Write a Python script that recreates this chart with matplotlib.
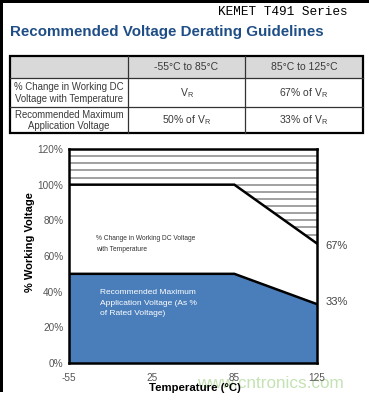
import numpy as np
import matplotlib
matplotlib.use("Agg")
import matplotlib.pyplot as plt
from matplotlib.patches import Polygon, Rectangle

# ---------------- data ----------------
series_name = "KEMET T491 Series"
title = "Recommended Voltage Derating Guidelines"

table_columns = ["", "-55°C to 85°C", "85°C to 125°C"]
table_row_labels = ["% Change in Working DC\nVoltage with Temperature",
                    "Recommended Maximum\nApplication Voltage"]
table_values = [["V$_\\mathregular{R}$", "67% of V$_\\mathregular{R}$"],
                ["50% of V$_\\mathregular{R}$", "33% of V$_\\mathregular{R}$"]]

temp_labels = ["-55", "25", "85", "125"]
working_dc = [100, 100, 100, 67]      # % change in working DC voltage
recommended = [50, 50, 50, 33]        # recommended max application voltage
y_ticks = [0, 20, 40, 60, 80, 100, 120]

# ---------------- figure ----------------
W, H = 369, 400
fig = plt.figure(figsize=(W / 100, H / 100), dpi=100)
fig.patch.set_facecolor("white")
plt.rcParams['font.family'] = ['Liberation Sans', 'DejaVu Sans']

bg = fig.add_axes([0, 0, 1, 1])
bg.set_xlim(0, W)
bg.set_ylim(H, 0)
bg.axis("off")

# screenshot edge artifacts
bg.add_patch(Rectangle((0, 0), W, 2.5, color="black", lw=0))
bg.add_patch(Rectangle((0, 0), 2.5, 392, color="black", lw=0))

# header texts
bg.text(218, 15, series_name, family="Liberation Mono", fontsize=9.2,
        color="black", ha="left", va="baseline")
bg.text(10, 36, title, fontsize=10.9, fontweight="bold", color="#1F4E86",
        ha="left", va="baseline")

# ---------------- table ----------------
xe = [10, 128, 245, 363]
ye = [56, 78, 107, 133]
bg.add_patch(Rectangle((xe[0], ye[0]), xe[-1] - xe[0], ye[1] - ye[0],
                       facecolor="#d9d9d9", edgecolor="none"))
for xv in xe[1:-1]:
    bg.plot([xv, xv], [ye[0], ye[-1]], color="#333333", lw=0.9)
for yv in ye[1:-1]:
    bg.plot([xe[0], xe[-1]], [yv, yv], color="#333333", lw=0.9)
bg.add_patch(Rectangle((xe[0], ye[0]), xe[-1] - xe[0], ye[-1] - ye[0],
                       facecolor="none", edgecolor="black", lw=1.6))
tc = "#3a3a3a"
for j, lab in enumerate(table_columns):
    if lab:
        bg.text((xe[j] + xe[j + 1]) / 2, (ye[0] + ye[1]) / 2 + 0.5, lab,
                fontsize=7.5, color=tc, ha="center", va="center")
for i, lab in enumerate(table_row_labels):
    cy = (ye[i + 1] + ye[i + 2]) / 2 + 0.5
    bg.text((xe[0] + xe[1]) / 2, cy, lab, fontsize=6.9, color=tc,
            ha="center", va="center", multialignment="center", linespacing=1.2)
    for j, val in enumerate(table_values[i]):
        bg.text((xe[j + 1] + xe[j + 2]) / 2, cy, val, fontsize=7.5, color=tc,
                ha="center", va="center")

# ---------------- chart ----------------
left, right, top, bottom = 69, 317, 149, 363
ax = fig.add_axes([left / W, 1 - bottom / H, (right - left) / W, (bottom - top) / H])
x = np.arange(len(temp_labels))
ax.set_xlim(x[0], x[-1])
ax.set_ylim(0, 120)

# hatched region above working voltage curve
verts = [(x[0], 120), (x[-1], 120)] + [(xi, yi) for xi, yi in zip(x[::-1], working_dc[::-1])]
clip = Polygon(verts, closed=True, transform=ax.transData, facecolor="none", edgecolor="none")
ax.add_patch(clip)
hatch_levels = np.arange(68, 121, 4)
hl = ax.hlines(hatch_levels, x[0], x[-1], colors="#9a9a9a", lw=1.3, zorder=1)
hl.set_clip_path(clip)

ax.fill_between(x, recommended, 0, color="#4a7ebb", lw=0, zorder=2)
ax.plot(x, working_dc, color="black", lw=1.8, zorder=3, solid_joinstyle="miter")
ax.plot(x, recommended, color="black", lw=1.8, zorder=3, solid_joinstyle="miter")

for s in ax.spines.values():
    s.set_linewidth(1.8)
    s.set_color("black")
    s.set_zorder(4)

ax.set_xticks(x)
ax.set_xticklabels(temp_labels)
ax.set_yticks(y_ticks)
ax.set_yticklabels([f"{v}%" for v in y_ticks])
ax.tick_params(axis="both", length=0, labelsize=7.2, labelcolor="#555555")
ax.tick_params(axis="x", pad=7)
ax.tick_params(axis="y", pad=4)

ax.text(0.33, 66.5, "% Change in Working DC Voltage\nwith Temperature", fontsize=4.8,
        color="#333333", ha="left", va="center", linespacing=1.8)
ax.text(0.38, 33.6, "Recommended Maximum\nApplication Voltage (As %\nof Rated Voltage)",
        fontsize=6.0, color="white", ha="left", va="center", linespacing=1.7)

# end-point labels
bg.text(325, 246, f"{working_dc[-1]}%", fontsize=8, color="#444444", ha="left", va="center")
bg.text(326, 302, f"{recommended[-1]}%", fontsize=8, color="#444444", ha="left", va="center")

# watermark and axis titles
bg.text(197, 384, "www.cntronics.com", fontsize=12.3, color="#c4e2b3",
        ha="left", va="center", zorder=0)
bg.text(30, 242, "% Working Voltage", fontsize=8, fontweight="bold", color="black",
        rotation=90, ha="center", va="center")
bg.text(195, 388, "Temperature (°C)", fontsize=8.2, fontweight="bold", color="black",
        ha="center", va="center", zorder=5)

fig.savefig("out.png", dpi=100, facecolor="white")
